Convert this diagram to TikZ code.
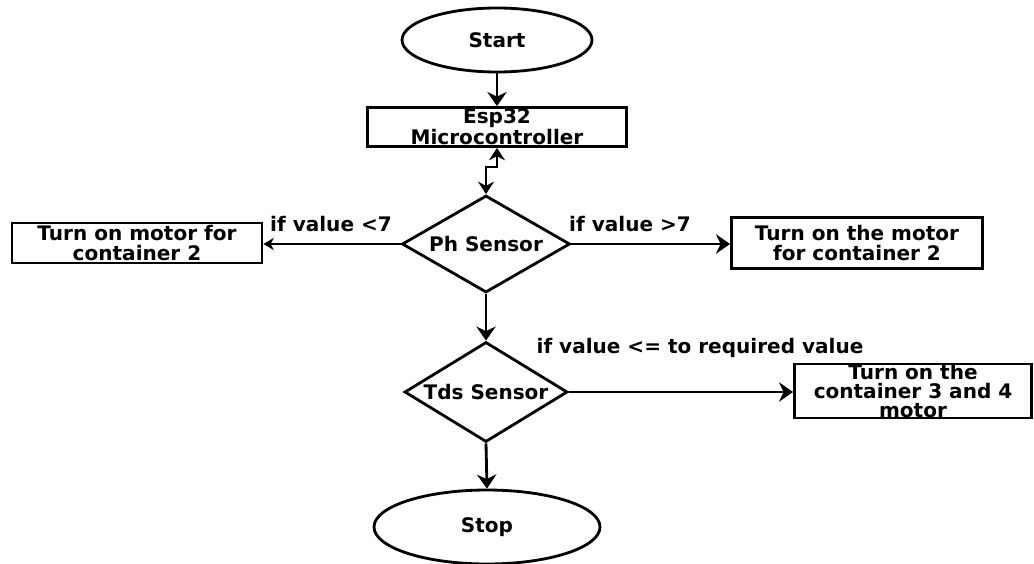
\documentclass[tikz,border=0pt]{standalone}
\usepackage{fontspec}
\setmainfont{DejaVu Sans}
\usetikzlibrary{shapes.geometric,arrows.meta}
\begin{document}
\begin{tikzpicture}[line join=miter,>={Stealth[length=8pt,width=11pt]},line width=1.6pt,
	every node/.style={font=\fontsize{11.4}{11}\selectfont\bfseries,align=center,inner sep=0pt},
	term/.style={draw,ellipse},
	box/.style={draw,rectangle},
	decision/.style={draw,diamond,aspect=1.7},
	lbl/.style={font=\fontsize{11.4}{11}\selectfont\bfseries}]
	\useasboundingbox (0,0) rectangle (20.68,-11.26);
	% start and controller
	\node[term,minimum width=3.8cm,minimum height=1.28cm] (start) at (9.94,-0.80) {Start};
	\node[box,minimum width=5.18cm,minimum height=0.78cm] (esp) at (9.94,-2.54) {Esp32\\Microcontroller};
	% sensors
	\node[decision,minimum width=3.36cm,minimum height=1.94cm] (ph) at (9.72,-4.88) {Ph Sensor};
	\node[decision,aspect=1.63,minimum width=3.26cm,minimum height=2.0cm] (tds) at (9.72,-7.84) {Tds Sensor};
	% outputs
	\node[box,minimum width=5.0cm,minimum height=0.80cm] (motorL) at (2.74,-4.86) {Turn on motor for\\container 2};
	\node[box,minimum width=5.02cm,minimum height=1.02cm] (motorR) at (17.14,-4.86) {Turn on the motor\\for container 2};
	\node[box,minimum width=4.74cm,minimum height=1.04cm] (motorT) at (18.26,-7.82) {Turn on the\\container 3 and 4\\motor};
	\node[term,minimum width=4.52cm,minimum height=1.48cm] (stop) at (9.74,-10.54) {Stop};
	% connectors
	\draw[->] (start) -- (esp);
	\draw[<->,>={Stealth[length=7pt,width=9pt]}] (esp.south) -- ++(0,-0.38) -| (ph.north);
	\draw[->,line width=0.8pt,>={Stealth[length=6pt,width=7pt]}] (ph.west) -- (motorL.east |- ph.west);
	\draw[->] (ph.east) -- (motorR.west |- ph.east);
	\draw[->] (ph.south) -- (tds.north);
	\draw[->] (tds.east) -- (motorT.west |- tds.east);
	\draw[->] (tds.south) -- (stop.north);
	% labels
	\node[lbl] (ltL) at (6.62,-4.48) {if value <7};
	\node[lbl] (gtR) at (12.6,-4.48) {if value >7};
	\node[lbl] (leT) at (14.0,-6.96) {if value <= to required value};
\end{tikzpicture}
\end{document}
